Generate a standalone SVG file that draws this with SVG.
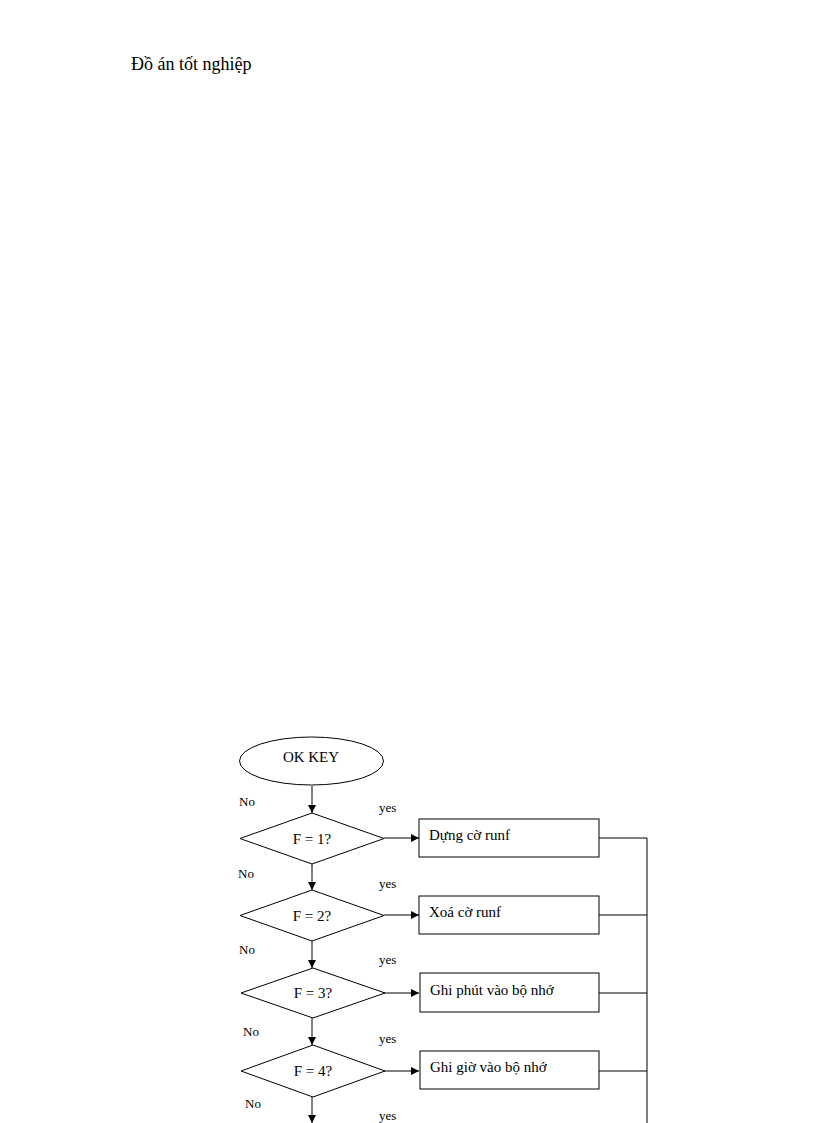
<svg xmlns="http://www.w3.org/2000/svg" width="816" height="1123" viewBox="0 0 816 1123">
<style>
.s{fill:#fff;stroke:#000;stroke-width:1}
.t{font-family:"Liberation Serif",serif;font-size:15px;fill:#000}
.l{font-family:"Liberation Serif",serif;font-size:13px;fill:#000}
.c{fill:none;stroke:#000;stroke-width:1}
</style>
<defs><marker id="a" markerWidth="8" markerHeight="8" refX="8" refY="4" orient="auto" markerUnits="userSpaceOnUse"><path d="M0,0L8,4L0,8z" fill="#000"/></marker></defs>
<rect width="816" height="1123" fill="#fff"/>
<text x="131" y="70" font-family="Liberation Serif,serif" font-size="18">Đồ án tốt nghiệp</text>
<g id="connectors">
<path class="c" d="M312,786V813" marker-end="url(#a)"/>
<path class="c" d="M312,864V890" marker-end="url(#a)"/>
<path class="c" d="M312,941V968" marker-end="url(#a)"/>
<path class="c" d="M312,1018V1045" marker-end="url(#a)"/>
<path class="c" d="M312,1097V1123" marker-end="url(#a)"/>
<path class="c" d="M384,838H419" marker-end="url(#a)"/>
<path class="c" d="M384,915H419" marker-end="url(#a)"/>
<path class="c" d="M384,993H419" marker-end="url(#a)"/>
<path class="c" d="M384,1071H419" marker-end="url(#a)"/>
<path class="c" stroke="#303" d="M599,838H647M599,915H647M599,993H647M599,1071H647M647,838V1123"/>
</g>
<g class="l">
<text x="239" y="806">No</text><text x="238" y="878">No</text><text x="239" y="954">No</text><text x="243" y="1036">No</text><text x="245" y="1108">No</text>
<text x="379" y="812">yes</text><text x="379" y="888">yes</text><text x="379" y="964">yes</text><text x="379" y="1043">yes</text><text x="379" y="1120">yes</text>
</g>
<g id="start"><ellipse class="s" cx="311.5" cy="761" rx="72" ry="24"/><text class="t" x="311" y="762" text-anchor="middle">OK  KEY</text></g>
<g id="d1"><path class="s" d="M240,838.5L312,813L384,838.5L312,864z"/><text class="t" x="312" y="844" text-anchor="middle">F = 1?</text></g>
<g id="d2"><path class="s" d="M240,915.5L312,890L384,915.5L312,941z"/><text class="t" x="312" y="921" text-anchor="middle">F = 2?</text></g>
<g id="d3"><path class="s" d="M241,993L313,968L385,993L313,1018z"/><text class="t" x="313" y="998" text-anchor="middle">F = 3?</text></g>
<g id="d4"><path class="s" d="M241,1071L313,1045L385,1071L313,1097z"/><text class="t" x="313" y="1076" text-anchor="middle">F = 4?</text></g>
<g id="b1"><rect class="s" x="419" y="819" width="180" height="38"/><text class="t" x="429" y="840">Dựng cờ runf</text></g>
<g id="b2"><rect class="s" x="419" y="896" width="180" height="38"/><text class="t" x="429" y="917">Xoá cờ runf</text></g>
<g id="b3"><rect class="s" x="420" y="973" width="179" height="39"/><text class="t" x="430" y="995">Ghi phút vào bộ nhớ</text></g>
<g id="b4"><rect class="s" x="420" y="1051" width="179" height="38"/><text class="t" x="430" y="1072">Ghi giờ vào bộ nhớ</text></g>
</svg>
